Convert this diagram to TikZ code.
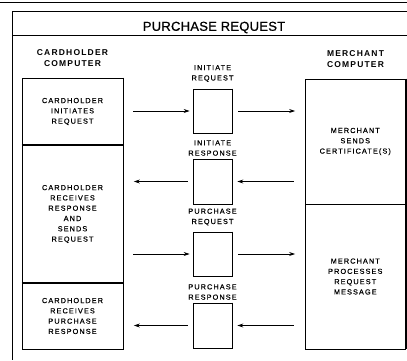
\documentclass[tikz,border=0pt]{standalone}
\usepackage{fontspec}
\setmainfont{Liberation Sans}
\newfontfamily\lblfont[LetterSpace=15,FakeBold=0.5]{Liberation Sans}
\newfontfamily\hdrfont[LetterSpace=14]{Liberation Sans}
\newfontfamily\ttlfont[LetterSpace=2,FakeBold=0.8]{Liberation Sans}
\usetikzlibrary{arrows.meta}

\tikzset{
  lbl/.style={font=\lblfont\fontsize{7.3}{10.3}\selectfont, align=center, inner sep=0pt},
  hdr/.style={font=\hdrfont\bfseries\fontsize{8.5}{11}\selectfont, align=center, inner sep=0pt},
  ttl/.style={font=\ttlfont\fontsize{13}{15}\selectfont, inner sep=0pt},
  panel/.style={draw, line width=0.8pt, rectangle, inner sep=0pt, align=center,
                font=\lblfont\fontsize{7.3}{10.3}\selectfont},
  msgbox/.style={draw, line width=0.8pt, rectangle, inner sep=0pt,
                 minimum width=39pt},
  rim/.style={line width=1.6pt},
  divide/.style={line width=2pt},
  frame/.style={line width=0.9pt},
  flow/.style={line width=0.7pt, -{Stealth[length=6pt,width=4pt]}},
}

\begin{document}
\begin{tikzpicture}[x=1pt,y=-1pt]
  \useasboundingbox (0,0) rectangle (407,360);

  % page rule and outer frame
  \draw[frame] (0,2.5) -- (407,2.5);
  \draw[frame] (407,11) -- (12,11) -- (12,360);
  \draw[frame] (12,35) -- (407,35);

  % title and column headings
  \node[ttl] (title) at (214,27.5) {PURCHASE REQUEST};
  \node[hdr] (hdrC) at (72.5,58.5) {CARDHOLDER\\COMPUTER};
  \node[hdr] (hdrM) at (355.5,59) {MERCHANT\\COMPUTER};

  % cardholder column
  \node[panel, minimum width=101pt, minimum height=67pt] (c1) at (72.5,111.5)
    {CARDHOLDER\\INITIATES\\REQUEST};
  \node[panel, minimum width=101pt, minimum height=138pt] (c2) at (72.5,214)
    {CARDHOLDER\\RECEIVES\\RESPONSE\\AND\\SENDS\\REQUEST};
  \node[panel, minimum width=101pt, minimum height=66pt] (c3) at (72.5,316)
    {CARDHOLDER\\RECEIVES\\PURCHASE\\RESPONSE};

  % merchant column
  \node[panel, minimum width=100.5pt, minimum height=125pt] (m1) at (355.25,141.5)
    {MERCHANT\\SENDS\\CERTIFICATE(S)};
  \node[panel, minimum width=100.5pt, minimum height=145pt] (m2) at (355.25,276.5)
    {MERCHANT\\PROCESSES\\REQUEST\\MESSAGE};

  % message boxes
  \node[msgbox, minimum height=44pt] (b1) at (212.5,111) {};
  \node[msgbox, minimum height=45pt] (b2) at (212.5,181.5) {};
  \node[msgbox, minimum height=44pt] (b3) at (212.5,254) {};
  \node[msgbox, minimum height=45pt] (b4) at (212.5,325.5) {};

  % message labels
  \node[lbl] (l1) at (212.5,73.5) {INITIATE\\REQUEST};
  \node[lbl] (l2) at (212.5,148) {INITIATE\\RESPONSE};
  \node[lbl] (l3) at (212.5,217) {PURCHASE\\REQUEST};
  \node[lbl] (l4) at (212.5,292) {PURCHASE\\RESPONSE};

  % heavier right edges and section dividers
  \draw[rim] (c1.north east) -- (c3.south east);
  \draw[rim] (m1.north east) -- (m2.south east);
  \foreach \b in {b1,b2,b3,b4} \draw[rim] (\b.north east) -- (\b.south east);
  \draw[divide] (c1.south west) -- (c1.south east);
  \draw[divide] (c2.south west) -- (c2.south east);

  % message flow
  \draw[flow, shorten <=10pt, shorten >=3pt] (c1.east |- b1.west) -- (b1.west);
  \draw[flow, shorten <=6pt, shorten >=9.5pt] (b1.east) -- (b1.east -| m1.west);

  \draw[flow, shorten <=11pt, shorten >=5pt] (m1.west |- b2.east) -- (b2.east);
  \draw[flow, shorten <=5pt, shorten >=10.5pt] (b2.west) -- (b2.west -| c2.east);

  \draw[flow, shorten <=10pt, shorten >=3pt] (c2.east |- b3.west) -- (b3.west);
  \draw[flow, shorten <=6pt, shorten >=9.5pt] (b3.east) -- (b3.east -| m2.west);

  \draw[flow, shorten <=11pt, shorten >=5pt] (m2.west |- b4.east) -- (b4.east);
  \draw[flow, shorten <=5pt, shorten >=10.5pt] (b4.west) -- (b4.west -| c3.east);
\end{tikzpicture}
\end{document}
